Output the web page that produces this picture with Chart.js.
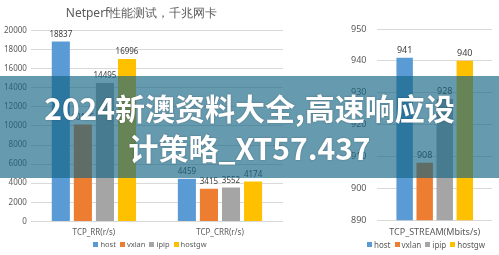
<!DOCTYPE html>
<html>
<head>
<meta charset="utf-8">
<script src="https://cdn.jsdelivr.net/npm/chart.js@4"></script>
<style>
    body { margin: 0; width: 499px; height: 255px; background: #fff; position: relative; overflow: hidden;
           font-family: 'Noto Sans', 'DejaVu Sans', sans-serif; }
    .box { position: absolute; top: 0; height: 255px; }
    .leyenda { position: absolute; top: 238px; height: 12px; display: flex; justify-content: center;
               align-items: center; color: #595959; white-space: nowrap; }
    .leyenda span { display: inline-flex; align-items: center; margin: 0 2px; }
    .leyenda i { display: inline-block; width: 5px; height: 5px; margin-right: 2px; }
    #banner {
        position: absolute; left: 0; top: 76px; width: 499px; height: 102px;
        background: rgba(20, 100, 130, 0.65);
        color: #fff; text-align: center;
        font-family: "Noto Sans CJK SC", sans-serif; font-weight: 700;
        font-size: 30px; line-height: 40px; padding-top: 11px; box-sizing: border-box;
        text-shadow: 0 0 2px rgba(0,0,0,0.3);
    }
</style>
</head>
<body>
<div class="box" style="left:0; width:290px;"><canvas id="grafico"></canvas></div>
<div class="box" style="left:340px; width:159px;"><canvas id="grafico2"></canvas></div>
<div class="leyenda" id="ley1" style="left:50px; width:200px; font-size:7.5px;"></div>
<div class="leyenda" id="ley2" style="left:356px; width:140px; font-size:8px;"></div>
<div id="banner">2024新澳资料大全,高速响应设<br>计策略_XT57.437</div>

<script>
// datos
const series = ["host", "vxlan", "ipip", "hostgw"];
const colores = ["#5b9bd5", "#ed7d31", "#a5a5a5", "#ffc000"];

const etiquetas1 = ["TCP_RR(r/s)", "TCP_CRR(r/s)"];
const host1 = [18837, 4459];
const vxlan1 = [10136, 3415];
const ipip1 = [14495, 3552];
const hostgw1 = [16996, 4174];

const etiquetas2 = ["TCP_STREAM(Mbits/s)"];
const host2 = [941];
const vxlan2 = [908];
const ipip2 = [928];
const hostgw2 = [940];

const fuente = "'Noto Sans', 'DejaVu Sans', sans-serif";
const gris = "#595959";

// leyendas en html
["ley1", "ley2"].forEach(id => {
    document.getElementById(id).innerHTML = series
        .map((s, i) => `<span><i style="background:${colores[i]}"></i>${s}</span>`)
        .join("");
});

// etiquetas encima de las barras
const valores = {
    id: "valores",
    afterDatasetsDraw(chart) {
        const ctx = chart.ctx;
        ctx.save();
        ctx.font = chart.options.plugins.valores.size + "px " + fuente;
        ctx.fillStyle = "#404040";
        ctx.textAlign = "center";
        ctx.textBaseline = "bottom";
        chart.data.datasets.forEach((ds, i) => {
            chart.getDatasetMeta(i).data.forEach((bar, j) => {
                ctx.fillText(ds.data[j], bar.x, bar.y - 3);
            });
        });
        ctx.restore();
    }
};

function datasets(vals) {
    return vals.map((v, i) => ({
        label: series[i],
        data: v,
        backgroundColor: colores[i],
        categoryPercentage: 0.7,
        barPercentage: 0.82
    }));
}

function opciones(min, max, step, titulo, size, ypad, pad) {
    return {
        responsive: true,
        maintainAspectRatio: false,
        animation: false,
        layout: { padding: pad },
        plugins: {
            valores: { size: size },
            title: {
                display: !!titulo,
                text: titulo,
                color: gris,
                font: { size: 12, family: fuente, weight: "normal" },
                padding: { top: 6, bottom: 10 }
            },
            legend: { display: false },
            tooltip: { enabled: false }
        },
        scales: {
            x: {
                grid: { display: false, drawTicks: false },
                border: { display: false },
                ticks: { color: gris, font: { size: size, family: fuente }, padding: 7 }
            },
            y: {
                min: min,
                max: max,
                border: { display: false },
                grid: { color: "#d9d9d9", drawTicks: false },
                ticks: {
                    stepSize: step,
                    color: gris,
                    font: { size: size, family: fuente },
                    padding: ypad,
                    callback: v => String(v)
                }
            }
        }
    };
}

new Chart(document.getElementById("grafico"), {
    type: "bar",
    data: { labels: etiquetas1, datasets: datasets([host1, vxlan1, ipip1, hostgw1]) },
    options: opciones(0, 20000, 2000, "Netperf性能测试，千兆网卡", 8, 4,
        { top: 0, right: 7, bottom: 10, left: 0 }),
    plugins: [valores]
});

new Chart(document.getElementById("grafico2"), {
    type: "bar",
    data: { labels: etiquetas2, datasets: datasets([host2, vxlan2, ipip2, hostgw2]) },
    options: opciones(890, 950, 10, "", 9, 11,
        { top: 29, right: 7, bottom: 10, left: 0 }),
    plugins: [valores]
});
</script>
</body>
</html>
